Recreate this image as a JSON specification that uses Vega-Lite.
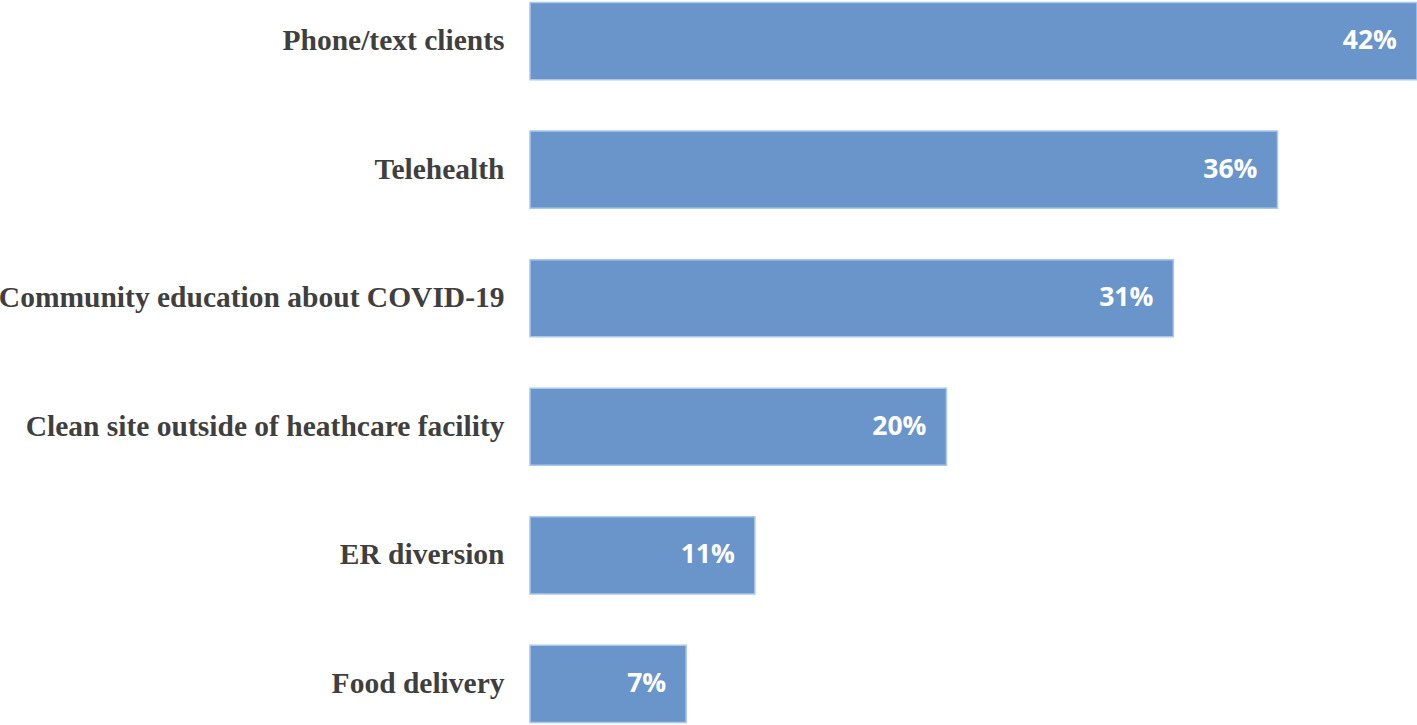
{
  "$schema": "https://vega.github.io/schema/vega-lite/v6.json",
  "autosize": {"type": "none"},
  "padding": {"left": 530, "top": 0, "right": 0, "bottom": 0},
  "width": 887,
  "height": 725,
  "background": "white",
  "config": {"view": {"stroke": null}},
  "data": {"values": [
    {"item": "Phone/text clients", "pct": 42.6, "label": "42%"},
    {"item": "Telehealth", "pct": 35.9, "label": "36%"},
    {"item": "Community education about COVID-19", "pct": 30.9, "label": "31%"},
    {"item": "Clean site outside of heathcare facility", "pct": 20.0, "label": "20%"},
    {"item": "ER diversion", "pct": 10.8, "label": "11%"},
    {"item": "Food delivery", "pct": 7.5, "label": "7%"}
  ]},
  "encoding": {
    "y": {"field": "item", "type": "nominal", "sort": null,
      "scale": {"paddingInner": 0.4, "paddingOuter": 0.02},
      "axis": {"title": null, "domain": false, "ticks": false, "labelFont": "Liberation Serif", "labelFontWeight": "bold", "labelFontSize": 29.5, "labelColor": "#3f3f3f", "labelPadding": 26, "labelLimit": 0}},
    "x": {"field": "pct", "type": "quantitative", "scale": {"domain": [0, 42.6], "nice": false, "zero": true}, "axis": null}
  },
  "layer": [
    {"mark": {"type": "bar", "color": "#6a95cb", "stroke": "#a9c9ea", "strokeWidth": 1.5}},
    {"mark": {"type": "text", "align": "right", "baseline": "middle", "dx": -20, "font": "Open Sans", "fontWeight": "bold", "fontSize": 26.5, "color": "white"},
      "encoding": {"text": {"field": "label"}}}
  ]
}
